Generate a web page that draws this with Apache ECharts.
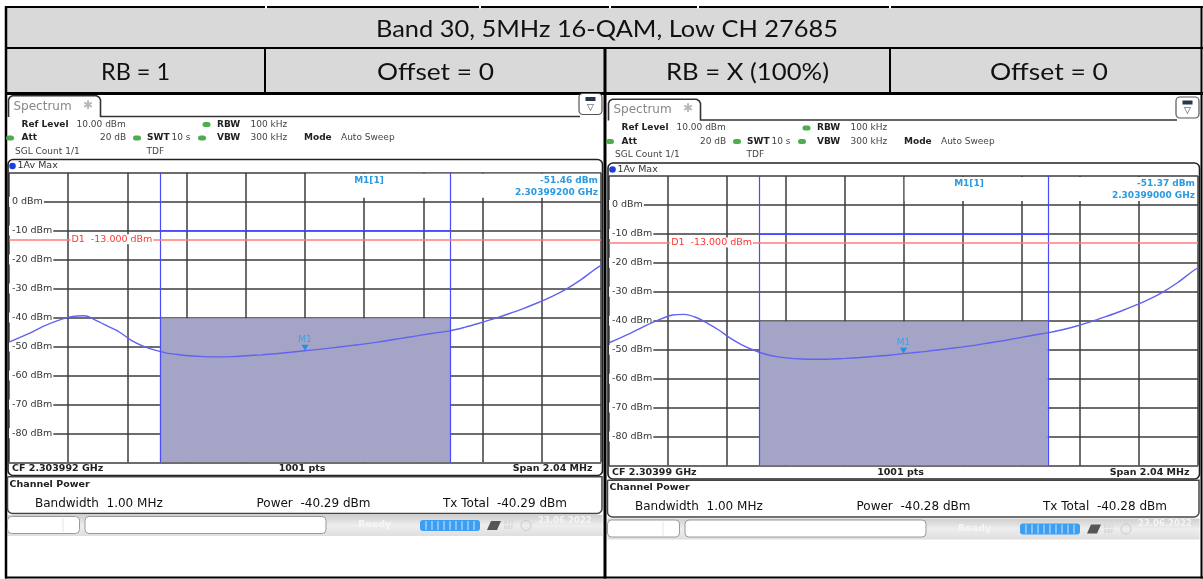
<!DOCTYPE html>
<html>
<head>
<meta charset="utf-8">
<script src="https://cdn.jsdelivr.net/npm/echarts@6/dist/echarts.min.js"></script>
<style>
  html, body { margin: 0; padding: 0; background: #fff; }
  #c { width: 1203px; height: 579px; }
</style>
</head>
<body>
<div id="c"></div>
<script>
// ---- test setup / table text ----
const TITLE = 'Band 30, 5MHz 16-QAM, Low CH 27685';
const HEADERS = ['RB = 1', 'Offset = 0', 'RB = X (100%)', 'Offset = 0'];

// ---- analyzer settings (shared) ----
const REF_LEVEL = '10.00 dBm';
const RBW = '100 kHz';
const VBW = '300 kHz';
const ATT = '20 dB';
const SWT = '10 s';
const SWEEP_POINTS = 1001;
const SPAN_MHZ = 2.04;
const SPAN_KHZ = 2040;
const CHANNEL_BW_KHZ = 1000;
const D1_LIMIT = -13;
const CHANNEL_TOP_LINE = -10;
const Y_TICKS = [10, 0, -10, -20, -30, -40, -50, -60, -70, -80, -90];

// ---- per-capture values: [RB = 1, RB = X (100%)] ----
const CENTER_FREQ = ['2.303992 GHz', '2.30399 GHz'];
const MARKER_LEVEL = [-51.46, -51.37];
const MARKER_FREQ = ['2.30399200 GHz', '2.30399000 GHz'];
const CHANNEL_POWER = [-40.29, -40.28];
const TX_TOTAL = [-40.29, -40.28];

// frequency offset from centre (kHz) of the sampled trace points
const FREQ_KHZ = [-1020, -950, -900, -850, -800, -760, -720, -680, -640, -600,
  -560, -520, -480, -440, -400, -350, -300, -250, -200, -150,
  -100, -50, 0, 50, 100, 150, 200, 250, 300, 350,
  400, 450, 500, 550, 600, 650, 700, 750, 800, 850,
  900, 950, 1000, 1020];
// trace level (dBm), RB = 1
const TRACE_RB1 = [-48.5, -45.5, -43, -41, -39.6, -39.4, -41, -43, -45, -47.8,
  -49.8, -51.2, -52.2, -52.8, -53.2, -53.5, -53.6, -53.5, -53.2, -52.9,
  -52.5, -52.0, -51.46, -51.0, -50.4, -49.8, -49.2, -48.5, -47.7, -46.9,
  -46.1, -45.3, -44.6, -43.4, -42, -40.5, -38.8, -37, -35, -32.8,
  -30.2, -27, -23.3, -22];
// trace level (dBm), RB = X (100%)
const TRACE_RB100 = [-47.6, -44.5, -42, -39.8, -38, -37.8, -38.8, -40.8, -43.2, -46,
  -48.3, -50.1, -51.5, -52.4, -52.9, -53.2, -53.3, -53.2, -53.0, -52.7,
  -52.3, -51.9, -51.37, -50.9, -50.3, -49.7, -49.1, -48.4, -47.6, -46.8,
  -45.9, -45.0, -44.2, -43.1, -41.8, -40.3, -38.6, -36.8, -34.8, -32.6,
  -30.0, -26.8, -23, -21.7];
const TRACES = [TRACE_RB1, TRACE_RB100];

// ---- layout ----
const FONT = '"DejaVu Sans", Verdana, sans-serif';
const TFONT = 'Lato';
const PANELS = [
  { ox: 0,   oy: 0,   L: 9,   T: 172.7, R: 601,  B: 462.3 },
  { ox: 600, oy: 3.5, L: 609, T: 176,   R: 1198, B: 465.5 }
];

const g = [];
function box(x, y, w, h, style, z, r) {
  g.push({ type: 'rect', shape: { x, y, width: w, height: h, r: r || 0 }, style, z: z == null ? 6 : z, silent: true });
}
function seg(x1, y1, x2, y2, stroke, lw, z) {
  g.push({ type: 'line', shape: { x1, y1, x2, y2 }, style: { stroke, lineWidth: lw }, z: z == null ? 6 : z, silent: true });
}
function text(x, y, str, o) {
  o = o || {};
  const al = o.align || 'left';
  g.push({
    type: 'text', x, y, z: o.z == null ? 7 : o.z, silent: true,
    scaleX: o.sx || 1,
    style: {
      text: str, fill: o.color || '#222',
      fontSize: o.size || 9, fontFamily: o.family || FONT, fontWeight: o.weight || 'normal',
      align: al, textAlign: al, verticalAlign: 'middle', textVerticalAlign: 'middle'
    }
  });
}
const mctx = document.createElement('canvas').getContext('2d');
function fit(str, size, family, target) {
  mctx.font = size + 'px ' + family;
  return target / mctx.measureText(str).width;
}

// ---- table ----
box(6, 8, 1195, 40, { fill: '#d9d9d9' }, 0);
box(6, 49, 1195, 44, { fill: '#d9d9d9' }, 0);
seg(5, 7, 1203, 7, '#000', 2);
[266, 480, 610, 698, 890].forEach(x => box(x - 1, 5.5, 2, 3, { fill: '#fff' }, 7));
seg(5, 48, 1203, 48, '#000', 2);
seg(5, 93.5, 1203, 93.5, '#000', 3);
seg(6, 6, 6, 578.5, '#000', 2.5);
seg(1201.5, 6, 1201.5, 578.5, '#000', 2);
seg(265, 48, 265, 93, '#000', 2);
seg(605, 48, 605, 578.5, '#000', 3);
seg(890, 48, 890, 93, '#000', 2);
seg(5, 577.5, 1203, 577.5, '#000', 2);

text(607, 29.5, TITLE, { size: 24, family: TFONT, color: '#111', align: 'center', sx: fit(TITLE, 24, TFONT, 462) });
const HEAD_X = [135.5, 435.5, 747.5, 1049];
const HEAD_W = [69, 117, 163, 118];
HEADERS.forEach((h, i) => text(HEAD_X[i], 72.5, h, { size: 24, family: TFONT, color: '#111', align: 'center', sx: fit(h, 24, TFONT, HEAD_W[i]) }));

// ---- analyzer screen chrome ----
function dot(x, y, color) { box(x - 4, y - 2.5, 8, 5, { fill: color }, 7, 2.5); }

PANELS.forEach((p, i) => {
  const ox = p.ox, oy = p.oy, R = p.R;
  // tab + top rule
  g.push({
    type: 'polyline', z: 6, silent: true,
    shape: { points: [[ox + 8.5, oy + 117], [ox + 8.5, oy + 100], [ox + 9.6, oy + 97.4], [ox + 12.2, oy + 95.8], [ox + 96.5, oy + 95.8], [ox + 99.2, oy + 97.4], [ox + 100.5, oy + 100], [ox + 100.5, oy + 116.5], [R - 21, oy + 116.5]] },
    style: { stroke: '#333', lineWidth: 1.6, fill: null }
  });
  text(ox + 13.5, oy + 106.5, 'Spectrum', { size: 12, color: '#888' });
  text(ox + 88, oy + 105.5, '\u2731', { size: 12, color: '#b8b8b8', align: 'center' });
  // display menu icon
  box(R - 22, oy + 93.5, 23, 21, { fill: '#fff', stroke: '#555', lineWidth: 1.2 }, 6, 4);
  box(R - 15.5, oy + 97, 10, 4, { fill: '#2a3550' }, 7);
  text(R - 10.5, oy + 107.5, '\u25BD', { size: 9, color: '#333', align: 'center' });

  // settings block
  const y1 = oy + 124.5, y2 = oy + 138, y3 = oy + 151.5;
  text(ox + 21.5, y1, 'Ref Level', { weight: 'bold' });
  text(ox + 76.5, y1, REF_LEVEL, { color: '#444' });
  dot(ox + 206.5, y1, '#4cae4c');
  text(ox + 217, y1, 'RBW', { weight: 'bold' });
  text(ox + 250.5, y1, RBW, { color: '#444' });
  dot(ox + 10, y2, '#4cae4c');
  text(ox + 21.5, y2, 'Att', { weight: 'bold' });
  text(ox + 100, y2, ATT, { color: '#444' });
  dot(ox + 137, y2, '#4cae4c');
  text(ox + 147, y2, 'SWT', { weight: 'bold' });
  text(ox + 171.5, y2, SWT, { color: '#444' });
  dot(ox + 202, y2, '#4cae4c');
  text(ox + 217, y2, 'VBW', { weight: 'bold' });
  text(ox + 250.5, y2, VBW, { color: '#444' });
  text(ox + 304, y2, 'Mode', { weight: 'bold' });
  text(ox + 341, y2, 'Auto Sweep', { color: '#444' });
  text(ox + 15, y3, 'SGL Count 1/1', { color: '#444' });
  text(ox + 146.5, y3, 'TDF', { color: '#444' });

  // diagram frame
  box(ox + 8, oy + 159.5, R - ox - 6.5, 316, { fill: null, stroke: '#222', lineWidth: 1.6 }, 6, 5);
  g.push({ type: 'circle', shape: { cx: ox + 12.5, cy: oy + 166, r: 3.3 }, style: { fill: '#1b3fe0' }, z: 7, silent: true });
  text(ox + 17.5, oy + 166, '1Av Max', { size: 9.5, color: '#333' });

  // marker readout panel
  const cx = (p.L + p.R) / 2;
  box(cx + 1.2, p.T + 1, p.R - cx - 2.2, 24, { fill: '#fff' }, 1);
  text(ox + 369, p.T + 7.5, 'M1[1]', { size: 9, weight: 'bold', color: '#2a9ae2', align: 'center' });
  text(p.R - 3, p.T + 7.5, MARKER_LEVEL[i].toFixed(2) + ' dBm', { size: 9, weight: 'bold', color: '#2a9ae2', align: 'right' });
  text(p.R - 3, p.T + 19.5, MARKER_FREQ[i], { size: 9, weight: 'bold', color: '#2a9ae2', align: 'right' });

  // footer of the diagram
  const fy = p.B + 6.7;
  text(ox + 12, fy, 'CF ' + CENTER_FREQ[i], { size: 9.5, weight: 'bold' });
  text(cx - 3, fy, SWEEP_POINTS + ' pts', { size: 9.5, weight: 'bold', align: 'center' });
  text(p.R - 8.5, fy, 'Span ' + SPAN_MHZ.toFixed(2) + ' MHz', { size: 9.5, weight: 'bold', align: 'right' });

  // channel power result table
  box(ox + 7.5, oy + 476.8, R - ox - 6.5, 36.7, { fill: '#fff', stroke: '#444', lineWidth: 1.5 }, 6, [0, 0, 5, 5]);
  text(ox + 9.5, oy + 484.5, 'Channel Power', { size: 9.5, weight: 'bold' });
  text(ox + 35, oy + 503.5, 'Bandwidth  ' + (CHANNEL_BW_KHZ / 1000).toFixed(2) + ' MHz', { size: 12, color: '#111' });
  text(ox + 256.5, oy + 503.5, 'Power  ' + CHANNEL_POWER[i].toFixed(2) + ' dBm', { size: 12, color: '#111' });
  text(ox + 443, oy + 503.5, 'Tx Total  ' + TX_TOTAL[i].toFixed(2) + ' dBm', { size: 12, color: '#111' });

  // status bar
  box(ox + 7.5, oy + 515, R - ox - 6, 21, {
    fill: new echarts.graphic.LinearGradient(0, 0, 0, 1, [
      { offset: 0, color: '#cfcfcf' }, { offset: 0.5, color: '#eeeeee' }, { offset: 1, color: '#dedede' }])
  }, 5);
  box(ox + 7.5, oy + 516.5, 72, 17, { fill: '#fff', stroke: '#9a9a9a', lineWidth: 1 }, 6, 4);
  seg(ox + 63, oy + 518, ox + 63, oy + 532, '#e4e4e4', 1);
  box(ox + 85, oy + 516.5, 241, 17, { fill: '#fff', stroke: '#9a9a9a', lineWidth: 1 }, 6, 4);
  text(ox + 358, oy + 525, 'Ready', { size: 9.5, weight: 'bold', color: '#f6f6f6' });
  box(ox + 420, oy + 520, 60, 11, { fill: '#3c9ff2' }, 6, 3);
  for (let k = 1; k < 10; k++) seg(ox + 420 + k * 6, oy + 521, ox + 420 + k * 6, oy + 530, '#cfe6ff', 1, 7);
  g.push({ type: 'polygon', shape: { points: [[ox + 487, oy + 530], [ox + 491, oy + 521], [ox + 501, oy + 521], [ox + 497, oy + 530]] }, style: { fill: '#555' }, z: 7, silent: true });
  text(ox + 504, oy + 523, 'EXT', { size: 5, color: '#d0d0d0' });
  text(ox + 504, oy + 528, 'REF', { size: 5, color: '#c8c8c8' });
  g.push({ type: 'circle', shape: { cx: ox + 526, cy: oy + 525.5, r: 5 }, style: { fill: null, stroke: '#cccccc', lineWidth: 1 }, z: 7, silent: true });
  text(ox + 538, oy + 520.5, '23.06.2022', { size: 8.5, weight: 'bold', color: '#f4f4f4' });
});

// ---- axes, traces and markers ----
const yLabel = v => (v === Y_TICKS[0] || v === Y_TICKS[Y_TICKS.length - 1]) ? '' : v + ' dBm';
const grid = [], xAxis = [], yAxis = [], series = [];
const splitStyle = { color: '#3c3c3c', width: 1.5 };

PANELS.forEach((p, i) => {
  grid.push({ left: p.L, top: p.T, width: p.R - p.L, height: p.B - p.T, containLabel: false, outerBoundsMode: 'none' });
  xAxis.push({
    type: 'value', gridIndex: i, min: -SPAN_KHZ / 2, max: SPAN_KHZ / 2, interval: SPAN_KHZ / 10,
    axisLine: { show: false }, axisTick: { show: false }, axisLabel: { show: false },
    splitLine: { show: true, lineStyle: splitStyle }
  });
  yAxis.push({
    type: 'value', gridIndex: i, min: Y_TICKS[Y_TICKS.length - 1], max: Y_TICKS[0], interval: 10,
    axisLine: { show: false }, axisTick: { show: false },
    splitLine: { show: true, lineStyle: splitStyle },
    axisLabel: {
      inside: true, margin: 0, formatter: yLabel, color: '#333', fontSize: 9.5, fontFamily: FONT,
      backgroundColor: '#fff', padding: [0, 1, 0, 3]
    }
  });

  const half = CHANNEL_BW_KHZ / 2;
  // channel power bar over the integration bandwidth
  series.push({
    type: 'line', xAxisIndex: i, yAxisIndex: i, z: 2, silent: true, symbol: 'none',
    data: [[-half, CHANNEL_POWER[i]], [half, CHANNEL_POWER[i]]],
    lineStyle: { width: 0 },
    areaStyle: { color: '#a4a4c6', opacity: 1, origin: 'start' },
    markLine: {
      silent: true, symbol: 'none', label: { show: false }, animation: false,
      lineStyle: { color: '#4a4aff', width: 1.2, type: 'solid' },
      data: [{ xAxis: -half }, { xAxis: half },
        [{ coord: [-half, CHANNEL_TOP_LINE] }, { coord: [half, CHANNEL_TOP_LINE] }]]
    }
  });
  // display line D1
  series.push({
    type: 'line', xAxisIndex: i, yAxisIndex: i, z: 3, silent: true, data: [],
    markLine: {
      silent: true, symbol: 'none', label: { show: false }, animation: false,
      lineStyle: { color: '#ff7b7b', width: 1.6, type: 'solid' },
      data: [{ yAxis: D1_LIMIT }]
    },
    markPoint: {
      silent: true, symbol: 'rect', symbolSize: 1, itemStyle: { color: 'rgba(0,0,0,0)' }, animation: false,
      label: {
        show: true, position: 'right', distance: 0,
        formatter: 'D1  ' + D1_LIMIT.toFixed(3) + ' dBm',
        color: '#ff3535', fontSize: 9.5, fontFamily: FONT, backgroundColor: '#fff', padding: [0, 1, 0, 1]
      },
      data: [{ coord: [-810, D1_LIMIT] }]
    }
  });
  // 1Av Max trace with marker M1
  series.push({
    type: 'line', xAxisIndex: i, yAxisIndex: i, z: 4, silent: true, symbol: 'none', smooth: 0.3,
    data: FREQ_KHZ.map((f, k) => [f, TRACES[i][k]]),
    lineStyle: { color: '#6262f0', width: 1.4 },
    markPoint: {
      silent: true, symbol: 'triangle', symbolSize: [7, 6], symbolRotate: 180, symbolOffset: [0, -3],
      itemStyle: { color: '#2590e0' }, animation: false,
      label: { show: true, position: 'top', distance: 1, formatter: 'M1', color: '#39a2ea', fontSize: 9, fontFamily: FONT },
      data: [{ coord: [0, MARKER_LEVEL[i]] }]
    }
  });
});

const chart = echarts.init(document.getElementById('c'), null, { renderer: 'canvas' });
chart.setOption({
  animation: false,
  backgroundColor: '#fff',
  graphic: { elements: g },
  grid, xAxis, yAxis, series
});
</script>
</body>
</html>
